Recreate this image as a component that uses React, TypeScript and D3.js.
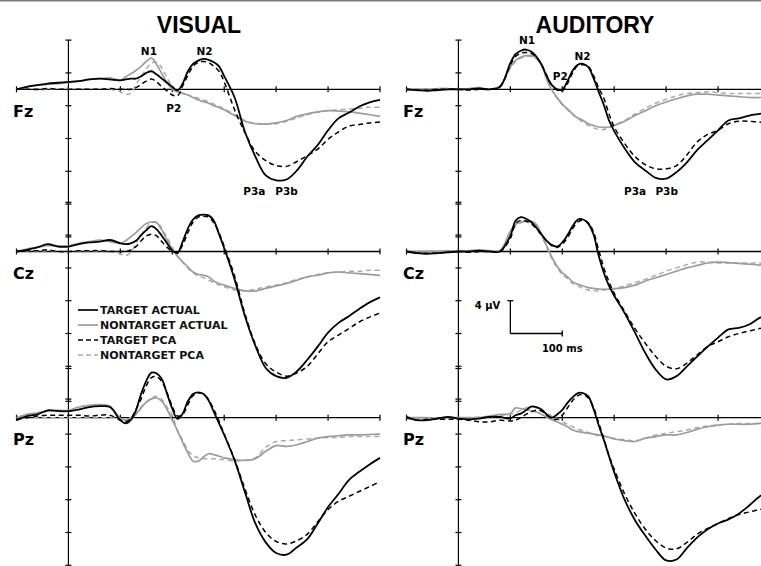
import { useEffect, useRef } from "react";
import * as d3 from "d3";

// time grid (ms), shared by every waveform
const times = [
  -100, -80, -60, -40, -20, 0, 20, 40, 60, 80, 100,
  110, 120, 130, 140, 150, 160, 170, 180, 190, 200, 210, 220, 230, 240, 250, 260, 270, 280, 290, 300,
  320, 340, 360, 380, 400, 420, 440, 460, 480, 500, 520, 540, 560, 580, 600,
];

// amplitudes in µV (negative plotted up)
const visFzTarget = [
  0, -0.3, -0.5, -0.7, -0.8, -0.9, -1.0, -1.2, -1.3, -1.2, -1.1,
  -1.2, -1.3, -1.3, -1.6, -2.0, -2.2, -1.8, -1.3, -0.8, -0.3, 0.15, -0.7, -2.2, -3.1, -3.5, -3.7, -3.6, -3.3, -2.8, -1.6,
  1.0, 5.2, 8.2, 10.5, 11.1, 11.0, 9.9, 8.2, 6.8, 5.0, 3.55, 2.86, 2.1, 1.6, 1.3,
];
const visFzTargetPca = [
  0, 0, 0, -0.1, 0, 0, 0, 0, 0, -0.1, 0,
  0, 0, -0.2, -0.6, -1.0, -1.25, -0.9, -0.3, 0.2, 0.7, 0.8, -0.4, -1.7, -2.8, -3.3, -3.4, -3.25, -2.8, -2.2, -0.9,
  2.5, 5.3, 7.6, 8.7, 9.3, 9.4, 8.8, 8.1, 7.3, 6.1, 5.2, 4.5, 4.3, 4.1, 4.0,
];
const visFzNontarget = [
  0, -0.3, -0.5, -0.6, -0.7, -0.8, -1.0, -1.2, -1.3, -1.4, -1.1,
  -1.5, -1.9, -2.3, -2.8, -3.4, -3.8, -3.0, -1.9, -0.8, 0, 0.3, 0.5, 0.7, 1.0, 1.3, 1.5, 1.7, 2.0, 2.2, 2.5,
  3.2, 3.9, 4.2, 4.25, 4.1, 3.8, 3.3, 3.0, 2.75, 2.6, 2.65, 2.75, 2.9, 3.1, 3.3,
];
const visFzNontargetPca = [
  0, 0, 0.1, 0, 0, 0, 0, 0, -0.1, 0, 0.3,
  0.6, 0.5, -0.6, -1.5, -2.5, -3.2, -3.3, -2.6, -1.4, -0.3, 0.3, 0.5, 0.7, 0.9, 1.1, 1.3, 1.5, 1.8, 2.1, 2.4,
  3.1, 3.8, 4.15, 4.2, 4.2, 3.9, 3.5, 3.1, 2.8, 2.6, 2.5, 2.4, 2.3, 2.2, 2.2,
];

const audFzTarget = [
  0, 0.1, 0.2, 0.1, 0, 0, 0, -0.1, 0, -0.3, -3.2,
  -4.3, -4.7, -4.85, -4.6, -4.0, -3.0, -1.6, -0.5, 0, 0.05, -1.0, -2.3, -3.0, -3.1, -2.7, -1.4, 0.3, 1.9, 3.8, 5.1,
  7.2, 8.9, 9.9, 10.8, 10.9, 10.1, 8.9, 7.4, 6.2, 5.0, 3.8, 3.55, 3.2, 3.0, 2.8,
];
const audFzTargetPca = [
  0, 0.1, 0.1, 0, 0, 0, 0.1, 0, 0, -0.3, -3.0,
  -4.0, -4.4, -4.5, -4.4, -3.9, -3.0, -1.7, -0.5, 0.1, 0.2, -0.7, -2.0, -2.9, -3.0, -2.8, -1.7, -0.2, 1.1, 3.0, 4.6,
  6.6, 8.2, 9.2, 9.7, 9.7, 9.3, 8.0, 6.4, 5.5, 5.0, 4.2, 3.9, 3.9, 4.0, 4.0,
];
const audFzNontarget = [
  0, 0, 0, -0.1, -0.1, 0, -0.1, -0.2, 0, -0.4, -2.7,
  -3.5, -3.9, -4.1, -4.1, -3.8, -3.1, -1.2, 0.1, 1.0, 1.8, 2.4, 3.0, 3.5, 3.8, 4.2, 4.4, 4.6, 4.65, 4.6, 4.4,
  3.9, 3.2, 2.6, 2.0, 1.55, 1.15, 0.8, 0.6, 0.6, 0.7, 0.8, 0.9, 1.0, 1.0, 1.0,
];
const audFzNontargetPca = [
  0, 0, 0, 0, 0, 0, 0, 0, 0, -0.4, -2.6,
  -3.4, -3.8, -4.0, -4.0, -3.7, -3.0, -1.3, 0.1, 1.1, 1.9, 2.5, 3.1, 3.6, 4.0, 4.4, 4.7, 4.9, 4.9, 4.7, 4.4,
  3.8, 3.0, 2.3, 1.7, 1.2, 0.8, 0.5, 0.4, 0.3, 0.4, 0.5, 0.5, 0.5, 0.5, 0.5,
];

const visCzTarget = [
  0, -0.2, -0.5, -0.9, -0.6, -0.6, -0.9, -1.1, -1.2, -1.4, -1.0,
  -0.9, -1.0, -1.3, -2.0, -2.6, -3.1, -2.7, -1.9, -1.0, -0.1, 0.2, -1.2, -2.8, -3.9, -4.4, -4.5, -4.4, -3.75, -2.1, -0.4,
  3.4, 7.9, 11.5, 14.2, 15.2, 15.4, 14.6, 13.2, 11.6, 9.9, 8.7, 7.9, 7.0, 6.2, 5.6,
];
const visCzTargetPca = [
  0, -0.1, -0.1, -0.2, 0, 0, -0.1, -0.1, -0.1, 0, 0,
  0, -0.2, -0.6, -1.3, -1.9, -2.1, -1.9, -1.2, -0.5, 0, 0.1, -0.8, -2.3, -3.6, -4.2, -4.3, -4.2, -3.5, -2.3, -0.6,
  3.0, 7.6, 11.3, 13.7, 14.7, 15.2, 14.8, 14.0, 12.5, 11.0, 10.2, 9.4, 8.6, 8.0, 7.5,
];
const visCzNontarget = [
  0, -0.3, -0.5, -0.7, -0.7, -0.7, -1.0, -1.2, -1.4, -1.2, -1.0,
  -1.3, -1.8, -2.3, -2.9, -3.4, -3.6, -3.5, -2.6, -1.4, -0.3, 0.6, 1.25, 1.9, 2.5, 2.8, 2.9, 3.1, 3.6, 3.9, 4.1,
  4.5, 4.8, 4.8, 4.5, 4.2, 3.9, 3.5, 3.1, 2.9, 2.6, 2.5, 2.6, 2.7, 2.8, 2.9,
];
const visCzNontargetPca = [
  0, 0, 0, -0.1, 0, 0, 0, 0, 0, -0.1, 0.3,
  0.5, 0.1, -1.0, -2.0, -2.9, -3.5, -3.6, -2.8, -1.7, -0.5, 0.5, 1.3, 2.0, 2.6, 3.0, 3.2, 3.5, 3.8, 4.1, 4.3,
  4.7, 4.8, 4.6, 4.3, 4.1, 3.8, 3.4, 3.1, 2.8, 2.6, 2.5, 2.4, 2.4, 2.3, 2.3,
];

const audCzTarget = [
  0, 0.2, 0.3, 0.2, 0.1, 0, 0, -0.1, 0, 0, -1.9,
  -3.75, -4.2, -4.0, -3.6, -2.9, -2.1, -1.3, -0.8, -0.6, -1.1, -2.0, -3.1, -3.9, -3.9, -3.4, -2.1, 0.5, 2.6, 4.2, 5.4,
  7.5, 9.9, 12.4, 14.4, 15.6, 15.2, 14.0, 12.8, 11.6, 10.5, 9.5, 9.3, 8.9, 8.1, 7.7,
];
const audCzTargetPca = [
  0, 0.2, 0.2, 0.2, 0.1, 0, 0.1, 0, 0, 0, -1.6,
  -3.4, -3.8, -3.7, -3.4, -2.8, -2.0, -1.3, -0.7, -0.5, -0.9, -1.7, -2.8, -3.6, -3.8, -3.5, -2.4, -0.2, 2.0, 3.7, 5.1,
  7.3, 9.4, 11.2, 12.8, 14.0, 14.3, 13.6, 12.6, 11.6, 11.0, 10.4, 10.0, 9.7, 9.4, 9.2,
];
const audCzNontarget = [
  0, 0.1, 0, 0, -0.1, 0, -0.1, -0.2, -0.1, -0.1, -2.5,
  -3.3, -3.6, -3.7, -3.7, -3.3, -2.1, -0.7, 0.7, 1.8, 2.6, 3.1, 3.7, 4.0, 4.2, 4.4, 4.5, 4.6, 4.6, 4.6, 4.55,
  4.4, 4.1, 3.6, 3.2, 2.8, 2.4, 2.0, 1.7, 1.4, 1.3, 1.35, 1.45, 1.55, 1.65, 1.7,
];
const audCzNontargetPca = [
  0, 0, 0, 0, 0, 0, 0, 0, 0, -0.1, -2.3,
  -3.1, -3.5, -3.7, -3.6, -3.2, -2.0, -0.5, 0.9, 2.0, 2.8, 3.3, 3.9, 4.2, 4.5, 4.7, 4.8, 4.8, 4.7, 4.6, 4.5,
  4.2, 3.8, 3.4, 2.9, 2.4, 2.0, 1.6, 1.3, 1.3, 1.4, 1.4, 1.4, 1.4, 1.4, 1.4,
];

const visPzTarget = [
  0.3, -0.2, -0.4, -0.9, -0.8, -0.8, -1.0, -1.3, -1.4, -1.3, 0.3,
  0.7, 0.3, -0.9, -2.9, -4.5, -5.5, -5.4, -4.7, -2.9, -1.1, 0.15, -0.5, -2.0, -2.9, -3.1, -2.9, -2.1, -0.7, 0.7, 2.1,
  5.2, 9.1, 12.9, 15.2, 16.5, 16.7, 15.8, 14.8, 12.9, 10.9, 9.3, 7.6, 6.6, 5.7, 4.9,
];
const visPzTargetPca = [
  0.2, 0, -0.2, -0.3, -0.3, -0.3, -0.3, -0.2, -0.3, -0.3, 0.3,
  0.5, 0.1, -1.0, -2.3, -3.9, -4.9, -5.0, -4.4, -3.0, -1.4, -0.2, -0.4, -1.6, -2.7, -3.0, -2.9, -2.2, -1.0, 0.4, 2.0,
  5.1, 8.7, 11.9, 14.0, 15.1, 15.4, 15.0, 14.2, 12.7, 11.2, 10.2, 9.6, 9.0, 8.4, 7.8,
];
const visPzNontarget = [
  0, -0.4, -0.6, -0.8, -0.9, -0.9, -1.3, -1.5, -1.6, -1.4, 0.1,
  0.3, 0.2, -0.4, -1.2, -1.9, -2.3, -2.4, -2.0, -1.0, 0.3, 1.6, 3.0, 4.3, 5.3, 5.3, 4.8, 4.4, 4.5, 4.7, 4.9,
  5.1, 5.2, 5.0, 4.1, 3.4, 3.5, 3.3, 2.9, 2.5, 2.3, 2.2, 2.1, 2.1, 2.05, 2.0,
];
const visPzNontargetPca = [
  0, 0, 0, 0, 0, 0, 0, 0, 0, 0, 0.1,
  0.2, 0, -0.6, -1.3, -1.9, -2.4, -2.6, -2.2, -1.3, -0.2, 1.5, 2.7, 4.0, 4.6, 4.9, 5.0, 5.0, 5.0, 5.1, 5.1,
  5.3, 5.2, 4.9, 3.6, 2.9, 2.8, 2.7, 2.6, 2.5, 2.4, 2.4, 2.3, 2.3, 2.3, 2.3,
];

const audPzTarget = [
  -0.1, 0.3, 0.3, 0.1, -0.1, 0.1, 0.2, 0.1, -0.1, -0.1, 0.1,
  -0.3, -0.5, -0.9, -1.35, -1.3, -1.0, -0.4, 0, -0.4, -0.95, -1.8, -2.5, -3.0, -3.0, -2.6, -1.1, 0.9, 2.7, 4.7, 6.65,
  10.0, 12.5, 14.4, 16.1, 17.4, 17.3, 15.9, 14.6, 13.6, 12.9, 12.4, 11.7, 10.7, 9.6, 9.0,
];
const audPzTargetPca = [
  0, 0.3, 0.2, 0.2, 0.2, 0.2, 0.3, 0.5, 0.5, 0.3, 0.4,
  0.3, 0, -0.4, -0.7, -0.9, -0.8, -0.3, 0.1, 0.2, -0.3, -1.2, -2.1, -2.7, -2.8, -2.4, -1.3, 0.6, 2.6, 4.6, 6.3,
  9.3, 11.7, 13.6, 15.0, 15.9, 16.0, 15.2, 14.2, 13.5, 12.9, 12.3, 11.8, 11.5, 11.2, 11.0,
];
const audPzNontarget = [
  0, 0, 0, 0.1, 0, 0, 0, 0, -0.2, -0.4, -0.5,
  -1.2, -1.1, -1.0, -0.85, -0.7, -0.4, -0.1, 0.25, 0.5, 0.8, 1.1, 1.5, 1.7, 1.8, 1.9, 2.0, 2.1, 2.2, 2.4, 2.6,
  2.8, 2.9, 2.5, 2.3, 2.1, 2.1, 1.8, 1.4, 1.1, 0.9, 0.8, 0.8, 0.8, 0.7, 0.7,
];
const audPzNontargetPca = [
  0, 0, 0, 0, 0, 0, 0, -0.1, -0.1, -0.3, -0.4,
  -0.6, -0.9, -1.2, -1.3, -1.2, -0.9, -0.6, -0.2, 0.1, 0.5, 0.8, 1.1, 1.4, 1.6, 1.8, 2.0, 2.2, 2.3, 2.4, 2.5,
  2.7, 2.8, 2.5, 2.1, 1.9, 1.7, 1.5, 1.2, 1.0, 0.9, 0.8, 0.7, 0.7, 0.7, 0.7,
];

const modalities = ["VISUAL", "AUDITORY"];
const sites = ["Fz", "Cz", "Pz"];
const legendLabels = ["TARGET ACTUAL", "NONTARGET ACTUAL", "TARGET PCA", "NONTARGET PCA"];
const xTicks = [-100, 0, 100, 200, 300, 400, 500, 600];
const yTicks = [-6, -2, 2, 6, 10, 14, 18];

// [modality][site] -> series in legend order
const panelData = [
  [
    [visFzTarget, visFzNontarget, visFzTargetPca, visFzNontargetPca],
    [visCzTarget, visCzNontarget, visCzTargetPca, visCzNontargetPca],
    [visPzTarget, visPzNontarget, visPzTargetPca, visPzNontargetPca],
  ],
  [
    [audFzTarget, audFzNontarget, audFzTargetPca, audFzNontargetPca],
    [audCzTarget, audCzNontarget, audCzTargetPca, audCzNontargetPca],
    [audPzTarget, audPzNontarget, audPzTargetPca, audPzNontargetPca],
  ],
];

// peak labels on the Fz row: [column, text, ms, µV]
const peakLabels: [number, string, number, number][] = [
  [0, "N1", 155, -4.2],
  [0, "N2", 262, -4.2],
  [0, "P2", 203, 2.8],
  [0, "P3a", 358, 12.9],
  [0, "P3b", 420, 12.9],
  [1, "N1", 132, -5.5],
  [1, "P2", 196, -1.1],
  [1, "N2", 239, -3.6],
  [1, "P3a", 340, 12.9],
  [1, "P3b", 401, 12.9],
];

const styles = [
  { color: "#000", dash: null, width: 1.8 },
  { color: "#9c9c9c", dash: null, width: 1.7 },
  { color: "#000", dash: "5,3.5", width: 1.5 },
  { color: "#ababab", dash: "5,3.5", width: 1.5 },
];

const W = 761;
const H = 566;
const boldFont = "'DejaVu Sans', sans-serif";

export default function App() {
  const ref = useRef<SVGSVGElement>(null);

  useEffect(() => {
    const svg = d3.select(ref.current);
    svg.selectAll("*").remove();

    const colRanges = [
      [16.5, 380],
      [406.5, 770],
    ];
    const rowZero = [89.3, 251.5, 417.7];
    const pxPerUv = 8.2;

    svg
      .append("line")
      .attr("x1", 0)
      .attr("x2", W)
      .attr("y1", 0.75)
      .attr("y2", 0.75)
      .attr("stroke", "#7a7a7a")
      .attr("stroke-width", 1.5);

    const titleX = [199, 595];
    modalities.forEach((m, c) => {
      svg
        .append("text")
        .attr("x", titleX[c])
        .attr("y", 33)
        .attr("text-anchor", "middle")
        .style("font-family", "'Liberation Sans', Arial, sans-serif")
        .style("font-weight", "bold")
        .style("font-size", "23px")
        .text(m);
    });

    const scales: { x: d3.ScaleLinear<number, number>; y: d3.ScaleLinear<number, number> }[][] = [];

    panelData.forEach((col, c) => {
      scales[c] = [];
      const x = d3.scaleLinear().domain([-100, 600]).range(colRanges[c]);
      col.forEach((series, r) => {
        const z = rowZero[r];
        const y = d3
          .scaleLinear()
          .domain([-6, 18])
          .range([z - 6 * pxPerUv, z + 18 * pxPerUv]);
        scales[c][r] = { x, y };
        const g = svg.append("g");

        // site label
        g.append("text")
          .attr("x", c === 0 ? 13 : 403)
          .attr("y", z + 27.5)
          .style("font-family", boldFont)
          .style("font-weight", "bold")
          .style("font-size", "16px")
          .text(sites[r]);

        // y axis
        g.append("line")
          .attr("x1", x(0))
          .attr("x2", x(0))
          .attr("y1", y(-6))
          .attr("y2", y(18))
          .attr("stroke", "#000")
          .attr("stroke-width", 1.2);
        g.selectAll(".yt")
          .data(yTicks)
          .enter()
          .append("line")
          .attr("x1", x(0) - 3)
          .attr("x2", x(0) + 3)
          .attr("y1", (d) => y(d))
          .attr("y2", (d) => y(d))
          .attr("stroke", "#000")
          .attr("stroke-width", 1.2);

        // x axis at zero
        g.append("line")
          .attr("x1", x(-100))
          .attr("x2", x(600))
          .attr("y1", y(0))
          .attr("y2", y(0))
          .attr("stroke", "#000")
          .attr("stroke-width", 1.3);
        g.selectAll(".xt")
          .data(xTicks)
          .enter()
          .append("line")
          .attr("x1", (d) => x(d))
          .attr("x2", (d) => x(d))
          .attr("y1", y(0) - 3)
          .attr("y2", y(0) + 3)
          .attr("stroke", "#000")
          .attr("stroke-width", 1.2);

        const line = d3
          .line<number>()
          .x((_, i) => x(times[i]))
          .y((d) => y(d))
          .curve(d3.curveCatmullRom.alpha(0.5));

        [3, 1, 2, 0].forEach((k) => {
          const s = styles[k];
          g.append("path")
            .attr("d", line(series[k]))
            .attr("fill", "none")
            .attr("stroke", s.color)
            .attr("stroke-width", s.width)
            .attr("stroke-dasharray", s.dash)
            .attr("stroke-linejoin", "round");
        });
      });
    });

    // peak labels
    peakLabels.forEach(([c, t, ms, uv]) => {
      const { x, y } = scales[c][0];
      svg
        .append("text")
        .attr("x", x(ms))
        .attr("y", y(uv))
        .attr("text-anchor", "middle")
        .style("font-family", boldFont)
        .style("font-weight", "bold")
        .style("font-size", "10.5px")
        .text(t);
    });

    // legend in the visual Cz panel
    const legend = svg.append("g").attr("transform", "translate(78,310)");
    const items = legend
      .selectAll("g")
      .data(legendLabels)
      .enter()
      .append("g")
      .attr("transform", (_, i) => `translate(0,${i * 15})`);
    items
      .append("line")
      .attr("x1", 0)
      .attr("x2", 20)
      .attr("y1", 0)
      .attr("y2", 0)
      .attr("stroke", (_, i) => styles[i].color)
      .attr("stroke-width", 1.7)
      .attr("stroke-dasharray", (_, i) => (styles[i].dash ? "5,3" : null));
    items
      .append("text")
      .attr("x", 22)
      .attr("y", 4)
      .style("font-family", boldFont)
      .style("font-weight", "bold")
      .style("font-size", "11px")
      .style("fill", "#111")
      .text((d) => d);

    // scale bar in the auditory Cz panel
    const { x: sx, y: sy } = scales[1][1];
    const bar = svg.append("g").attr("stroke", "#000").attr("stroke-width", 1.3);
    bar.append("line").attr("x1", sx(100)).attr("x2", sx(100)).attr("y1", sy(6)).attr("y2", sy(10));
    bar.append("line").attr("x1", sx(100) - 3).attr("x2", sx(100) + 3).attr("y1", sy(6)).attr("y2", sy(6));
    bar.append("line").attr("x1", sx(100)).attr("x2", sx(200)).attr("y1", sy(10)).attr("y2", sy(10));
    bar.append("line").attr("x1", sx(200)).attr("x2", sx(200)).attr("y1", sy(10) - 3).attr("y2", sy(10) + 3);
    svg
      .append("text")
      .attr("x", sx(100) - 10)
      .attr("y", sy(6) + 8)
      .attr("text-anchor", "end")
      .style("font-family", boldFont)
      .style("font-weight", "bold")
      .style("font-size", "10px")
      .text("4 µV");
    svg
      .append("text")
      .attr("x", sx(200))
      .attr("y", sy(10) + 18)
      .attr("text-anchor", "middle")
      .style("font-family", boldFont)
      .style("font-weight", "bold")
      .style("font-size", "10px")
      .text("100 ms");
  }, []);

  return (
    <svg
      ref={ref}
      width={W}
      height={H}
      style={{ position: "absolute", left: 0, top: 0, background: "#fff" }}
    />
  );
}
